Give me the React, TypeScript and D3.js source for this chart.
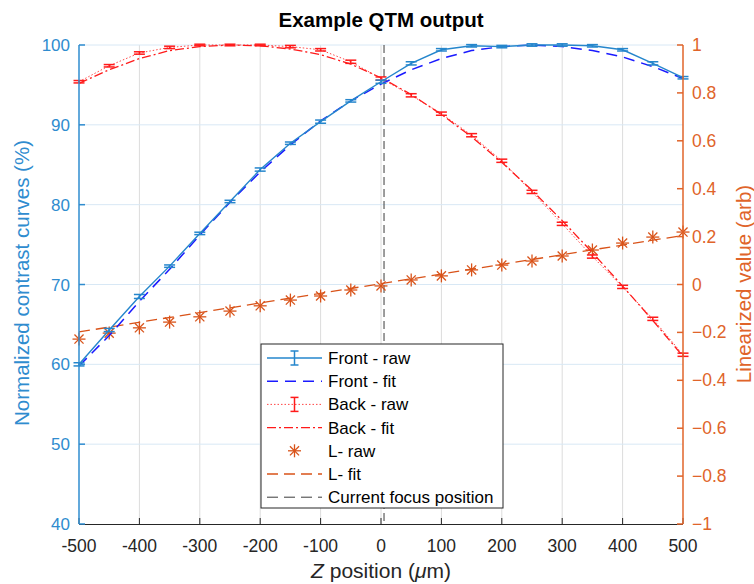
import React from "react";
import * as d3 from "d3";

const zPos = [-500, -450, -400, -350, -300, -250, -200, -150, -100, -50, 0, 50, 100, 150, 200, 250, 300, 350, 400, 450, 500];
const frontRaw = [60.0, 64.3, 68.5, 72.3, 76.4, 80.4, 84.4, 87.7, 90.4, 93.0, 95.4, 97.7, 99.4, 99.9, 99.8, 100.0, 100.0, 99.9, 99.4, 97.7, 95.9];
const frontErr = [0.2, 0.2, 0.25, 0.15, 0.15, 0.15, 0.2, 0.15, 0.2, 0.15, 0.2, 0.2, 0.15, 0.15, 0.15, 0.15, 0.15, 0.15, 0.15, 0.2, 0.15];
const frontFit = [59.8, 63.6, 67.9, 71.9, 76.2, 80.3, 84.1, 87.5, 90.5, 93.0, 95.1, 96.9, 98.3, 99.3, 99.8, 100.0, 99.8, 99.3, 98.5, 97.3, 95.8];
const backRaw = [95.4, 97.4, 99.0, 99.7, 100.0, 100.0, 100.0, 99.8, 99.4, 97.9, 95.8, 93.7, 91.4, 88.7, 85.5, 81.6, 77.6, 73.5, 69.7, 65.7, 61.2];
const backErr = [0.15, 0.15, 0.15, 0.15, 0.1, 0.1, 0.1, 0.15, 0.15, 0.2, 0.2, 0.2, 0.2, 0.2, 0.2, 0.2, 0.2, 0.2, 0.2, 0.2, 0.2];
const backFit = [95.2, 96.9, 98.3, 99.3, 99.8, 100.0, 99.9, 99.5, 98.8, 97.6, 95.9, 93.8, 91.3, 88.5, 85.3, 81.8, 78.0, 74.0, 69.8, 65.5, 61.0];
const lRaw = [-0.228, -0.203, -0.181, -0.157, -0.135, -0.111, -0.089, -0.065, -0.048, -0.023, -0.006, 0.019, 0.036, 0.061, 0.081, 0.098, 0.119, 0.144, 0.173, 0.198, 0.219];
const lFitZ = [-500, 500];
const lFit = [-0.198, 0.205];
const focusZ = 5;

const xTicks = [-500, -400, -300, -200, -100, 0, 100, 200, 300, 400, 500];
const leftTicks = [40, 50, 60, 70, 80, 90, 100];
const rightTicks = [-1, -0.8, -0.6, -0.4, -0.2, 0, 0.2, 0.4, 0.6, 0.8, 1];

const legendLabels = ["Front - raw", "Front - fit", "Back - raw", "Back - fit", "L- raw", "L- fit", "Current focus position"];

const BLUE_AX = "#2f8ccf";
const FRONT = "#2586cc";
const FIT_BLUE = "#1a1aff";
const RED = "#ff1a1a";
const ORANGE = "#d95319";
const ORANGE_AX = "#e0642a";
const FONT = "'Liberation Sans', Arial, Helvetica, sans-serif";

function Asterisk({ x, y, s }: { x: number; y: number; s: number }) {
  const d = s * 0.7;
  return (
    <g stroke={ORANGE} strokeWidth={1.3}>
      <line x1={x - s} y1={y} x2={x + s} y2={y} />
      <line x1={x} y1={y - s} x2={x} y2={y + s} />
      <line x1={x - d} y1={y - d} x2={x + d} y2={y + d} />
      <line x1={x - d} y1={y + d} x2={x + d} y2={y - d} />
    </g>
  );
}

export default function App() {
  const W = 754, H = 584;
  const x = d3.scaleLinear().domain([-500, 500]).range([79, 683]);
  const yL = d3.scaleLinear().domain([40, 100]).range([524, 45]);
  const yR = d3.scaleLinear().domain([-1, 1]).range([524, 45]);

  const lineL = d3.line<[number, number]>().x((d) => x(d[0])).y((d) => yL(d[1]));
  const lineR = d3.line<[number, number]>().x((d) => x(d[0])).y((d) => yR(d[1]));

  const pts = (vals: number[], zs: number[] = zPos) => zs.map((z, i) => [z, vals[i]] as [number, number]);

  const capW = 5.5;
  const errBars = (vals: number[], errs: number[], color: string) =>
    zPos.map((z, i) => {
      const cx = x(z);
      const y1 = yL(vals[i] - errs[i]);
      const y2 = yL(vals[i] + errs[i]);
      return (
        <g key={i} stroke={color} strokeWidth={1.5}>
          <line x1={cx} x2={cx} y1={y1} y2={y2} />
          <line x1={cx - capW} x2={cx + capW} y1={y1} y2={y1} />
          <line x1={cx - capW} x2={cx + capW} y1={y2} y2={y2} />
        </g>
      );
    });

  const legX = 261, legY = 344, legW = 242, legH = 164;
  const rowY = (i: number) => legY + 14 + i * 23.2;
  const lx1 = 267, lx2 = 322, lmid = 294.5;

  return (
    <svg width={W} height={H} style={{ position: "absolute", left: 0, top: 0, fontFamily: FONT }}>
      <rect x={0} y={0} width={W} height={H} fill="#fff" />
      {/* grid */}
      {xTicks.slice(1, -1).map((t) => (
        <line key={"gx" + t} x1={x(t)} x2={x(t)} y1={45} y2={524} stroke="#dcdcdc" strokeWidth={1} />
      ))}
      {leftTicks.slice(1).map((t) => (
        <line key={"gy" + t} x1={79} x2={683} y1={yL(t)} y2={yL(t)} stroke="#d8e8f5" strokeWidth={1} />
      ))}

      {/* focus line */}
      <line x1={x(focusZ)} x2={x(focusZ)} y1={45} y2={524} stroke="#3a3a3a" strokeWidth={1} strokeDasharray="8,4" />

      {/* L fit and raw */}
      <path d={lineR(pts(lFit, lFitZ)) || ""} fill="none" stroke={ORANGE} strokeWidth={1.3} strokeDasharray="11,6" />
      {zPos.map((z, i) => (
        <Asterisk key={"a" + i} x={x(z)} y={yR(lRaw[i])} s={6.5} />
      ))}

      {/* Back */}
      <path d={lineL(pts(backFit)) || ""} fill="none" stroke={RED} strokeWidth={1.3} strokeDasharray="9,3,2,3" />
      <path d={lineL(pts(backRaw)) || ""} fill="none" stroke={RED} strokeWidth={1} strokeDasharray="1.5,2" opacity={0.8} />
      {errBars(backRaw, backErr, RED)}

      {/* Front */}
      <path d={lineL(pts(frontFit)) || ""} fill="none" stroke={FIT_BLUE} strokeWidth={1.5} strokeDasharray="11,7" />
      <path d={lineL(pts(frontRaw)) || ""} fill="none" stroke={FRONT} strokeWidth={1.4} />
      {errBars(frontRaw, frontErr, FRONT)}

      {/* axes */}
      <line x1={79} x2={683} y1={524.5} y2={524.5} stroke="#262626" strokeWidth={1} />
      {xTicks.map((t) => (
        <g key={"xt" + t}>
          <line x1={x(t)} x2={x(t)} y1={524} y2={518} stroke="#262626" />
          <text x={x(t)} y={552} textAnchor="middle" fontSize={17.5} fill="#262626">
            {String(t)}
          </text>
        </g>
      ))}
      <line x1={79} x2={79} y1={45} y2={524} stroke={BLUE_AX} strokeWidth={1.5} />
      {leftTicks.map((t) => (
        <g key={"lt" + t}>
          <line x1={79} x2={85} y1={yL(t)} y2={yL(t)} stroke={BLUE_AX} strokeWidth={1.5} />
          <text x={70} y={yL(t) + 6} textAnchor="end" fontSize={17} fill={BLUE_AX}>
            {String(t)}
          </text>
        </g>
      ))}
      <line x1={683} x2={683} y1={45} y2={524} stroke={ORANGE_AX} strokeWidth={1.5} />
      {rightTicks.map((t) => (
        <g key={"rt" + t}>
          <line x1={677} x2={683} y1={yR(t)} y2={yR(t)} stroke={ORANGE_AX} strokeWidth={1.5} />
          <text x={692} y={yR(t) + 6} textAnchor="start" fontSize={17.5} fill={ORANGE_AX}>
            {d3.format("~g")(t)}
          </text>
        </g>
      ))}

      {/* labels */}
      <text x={381} y={27} textAnchor="middle" fontSize={20.5} fontWeight="bold" fill="#000">
        Example QTM output
      </text>
      <text transform="translate(29,283) rotate(-90)" textAnchor="middle" fontSize={20.5} fill={BLUE_AX}>
        Normalized contrast curves (%)
      </text>
      <text transform="translate(751,284) rotate(-90)" textAnchor="middle" fontSize={20.5} fill={ORANGE_AX}>
        Linearized value (arb)
      </text>
      <text x={381} y={578} textAnchor="middle" fontSize={21} fill="#262626">
        <tspan fontStyle="italic">Z</tspan>
        <tspan> position (</tspan>
        <tspan fontStyle="italic">μ</tspan>
        <tspan>m)</tspan>
      </text>

      {/* legend */}
      <rect x={legX} y={legY} width={legW} height={legH} fill="#fff" stroke="#262626" strokeWidth={1} />
      {legendLabels.map((lab, i) => (
        <text key={"lg" + i} x={328} y={rowY(i) + 6} fontSize={17} fill="#000">
          {lab}
        </text>
      ))}
      {/* legend samples */}
      <g>
        <line x1={lx1} x2={lx2} y1={rowY(0)} y2={rowY(0)} stroke={FRONT} strokeWidth={1.4} />
        <g stroke={FRONT} strokeWidth={1.5}>
          <line x1={lmid} x2={lmid} y1={rowY(0) - 7} y2={rowY(0) + 7} />
          <line x1={lmid - 4} x2={lmid + 4} y1={rowY(0) - 7} y2={rowY(0) - 7} />
          <line x1={lmid - 4} x2={lmid + 4} y1={rowY(0) + 7} y2={rowY(0) + 7} />
        </g>
        <line x1={lx1} x2={lx2} y1={rowY(1)} y2={rowY(1)} stroke={FIT_BLUE} strokeWidth={1.5} strokeDasharray="11,7" />
        <line x1={lx1} x2={lx2} y1={rowY(2)} y2={rowY(2)} stroke={RED} strokeWidth={1} strokeDasharray="1.5,2" opacity={0.8} />
        <g stroke={RED} strokeWidth={1.5}>
          <line x1={lmid} x2={lmid} y1={rowY(2) - 7} y2={rowY(2) + 7} />
          <line x1={lmid - 4} x2={lmid + 4} y1={rowY(2) - 7} y2={rowY(2) - 7} />
          <line x1={lmid - 4} x2={lmid + 4} y1={rowY(2) + 7} y2={rowY(2) + 7} />
        </g>
        <line x1={lx1} x2={lx2} y1={rowY(3)} y2={rowY(3)} stroke={RED} strokeWidth={1.3} strokeDasharray="9,3,2,3" />
        <Asterisk x={lmid} y={rowY(4)} s={6.5} />
        <line x1={lx1} x2={lx2} y1={rowY(5)} y2={rowY(5)} stroke={ORANGE} strokeWidth={1.3} strokeDasharray="11,6" />
        <line x1={lx1} x2={lx2} y1={rowY(6)} y2={rowY(6)} stroke="#3a3a3a" strokeWidth={1} strokeDasharray="11,6" />
      </g>
    </svg>
  );
}
